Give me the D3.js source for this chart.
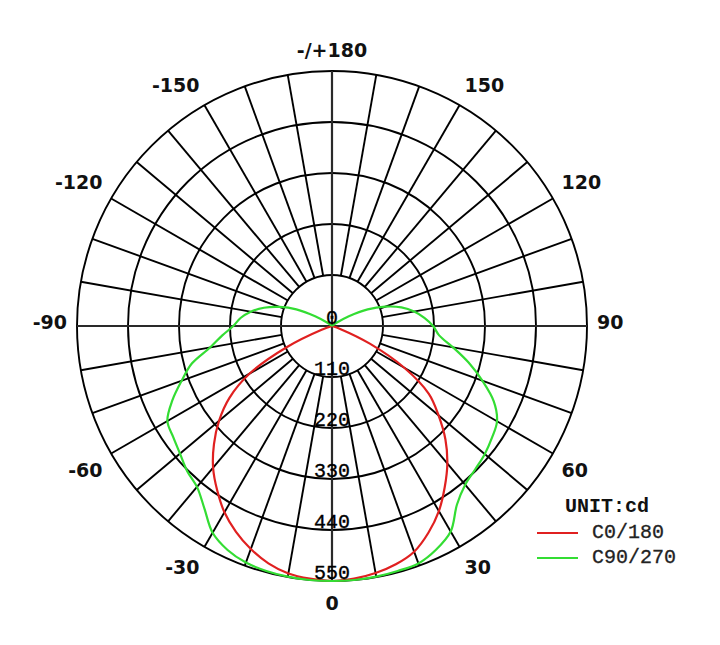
<!DOCTYPE html>
<html><head><meta charset="utf-8">
<script src="https://cdn.jsdelivr.net/npm/d3@7"></script>
<style>body{margin:0;background:#fff}</style>
</head><body>
<svg id="c" width="720" height="645"></svg>
<script>
// ---- data ----
const angles = [-180,-175,-170,-165,-160,-155,-150,-145,-140,-135,-130,-125,-120,-115,-110,-105,-100,-95,-90,-85,-80,-75,-70,-65,-60,-55,-50,-45,-40,-35,-30,-25,-20,-15,-10,-5,0,5,10,15,20,25,30,35,40,45,50,55,60,65,70,75,80,85,90,95,100,105,110,115,120,125,130,135,140,145,150,155,160,165,170,175,180];
const c0_180 = [0,0,0,0,0,0,0,0,0,0,0,0,0,0,0,0,0,0,0,0,0,0,25,107,205,270,318,360,399,432,464,490,512,530,542,547,550,547,541,532,518,492,461,424,387,346,300,255,180,90,20,0,0,0,0,0,0,0,0,0,0,0,0,0,0,0,0,0,0,0,0,0,0];
const c90_270 = [0,0,0,0,0,0,0,0,0,0,0,12,42,85,120,152,178,198,213,238,267,313,345,380,410,418,428,442,453,480,515,533,543,547,549,550,550,550,549,547,545,532,512,470,447,437,430,421,411,385,345,305,265,232,218,200,180,155,122,85,42,12,0,0,0,0,0,0,0,0,0,0,0];
const ringValues = [0,110,220,330,440,550];
const angleTicks = [0,30,60,90,120,150,180,-30,-60,-90,-120,-150];
const angleTickLabels = ["0","30","60","90","120","150","-/+180","-30","-60","-90","-120","-150"];
const seriesNames = ["C0/180","C90/270"];
const seriesColors = ["#e02020","#33dd33"];
const unitLabel = "UNIT:cd";

// ---- layout ----
const svg = d3.select("#c");
svg.append("rect").attr("width",720).attr("height",645).attr("fill","#fff");
const cx = 332, cy = 326, R = 255;
const r = d3.scaleLinear().domain([0,550]).range([0,R]);
const rad = d => d*Math.PI/180;
const pt = (deg, rr) => [cx + rr*Math.sin(rad(deg)), cy + rr*Math.cos(rad(deg))];

const grid = svg.append("g").attr("stroke","#000").attr("fill","none").attr("stroke-width",1.9);
ringValues.slice(1).forEach(v => grid.append("circle").attr("cx",cx).attr("cy",cy).attr("r",r(v)));
d3.range(0,360,10).filter(a => a%90!==0).forEach(a => {
  const p1 = pt(a, r(ringValues[1])), p2 = pt(a, r(ringValues[ringValues.length-1]));
  grid.append("line").attr("x1",p1[0]).attr("y1",p1[1]).attr("x2",p2[0]).attr("y2",p2[1]);
});
[0,90].forEach(a => {
  const p1 = pt(a, R), p2 = pt(a+180, R);
  grid.append("line").attr("x1",p1[0]).attr("y1",p1[1]).attr("x2",p2[0]).attr("y2",p2[1]).attr("stroke","#2a2a2a").attr("stroke-width",2.2);
});

// ---- curves ----
const line = d3.lineRadial()
  .angle(d => rad(180 - d[0]))
  .radius(d => r(d[1]))
  .curve(d3.curveCatmullRom.alpha(0.5));
const cg = svg.append("g").attr("transform",`translate(${cx},${cy})`);
[c0_180, c90_270].forEach((vals,i) => {
  cg.append("path").attr("d", line(angles.map((a,j)=>[a, vals[j]])))
    .attr("fill","none").attr("stroke",seriesColors[i]).attr("stroke-width",2.2);
});

// ---- ring labels ----
svg.append("g").selectAll("text").data(ringValues).join("text")
  .attr("x",cx).attr("y",v => cy + r(v) - 2)
  .attr("text-anchor","middle")
  .attr("font-family","Liberation Mono, monospace").attr("font-size",20)
  .attr("fill","#000").attr("stroke","#000").attr("stroke-width",0.35).text(v => v);

// ---- angle labels ----
svg.append("g").selectAll("text").data(angleTicks).join("text")
  .each(function(a,i){
    const p = pt(a, R + 10);
    const s = Math.sin(rad(a)), c = Math.cos(rad(a));
    const anchor = s > 0.01 ? "start" : (s < -0.01 ? "end" : "middle");
    const dy = c > 0.01 ? 18.5 : (c < -0.01 ? -4.5 : 3);
    d3.select(this).attr("x", p[0]).attr("y", p[1] + dy)
      .attr("text-anchor", anchor).text(angleTickLabels[i]);
  })
  .attr("font-family","DejaVu Sans, sans-serif").attr("font-weight","bold").attr("font-size",19)
  .attr("fill","#111");

// ---- legend ----
const lg = svg.append("g");
lg.append("text").attr("x",565).attr("y",512).text(unitLabel)
  .attr("font-family","Liberation Mono, monospace").attr("font-weight","bold").attr("font-size",20).attr("fill","#111");
seriesNames.forEach((n,i) => {
  const y = 533 + i*25;
  lg.append("line").attr("x1",537).attr("x2",578).attr("y1",y).attr("y2",y)
    .attr("stroke",seriesColors[i]).attr("stroke-width",2.2);
  lg.append("text").attr("x",592).attr("y",y+5).text(n)
    .attr("font-family","Liberation Mono, monospace").attr("font-size",20)
    .attr("fill","#222").attr("stroke","#222").attr("stroke-width",0.3);
});
</script>
</body></html>
